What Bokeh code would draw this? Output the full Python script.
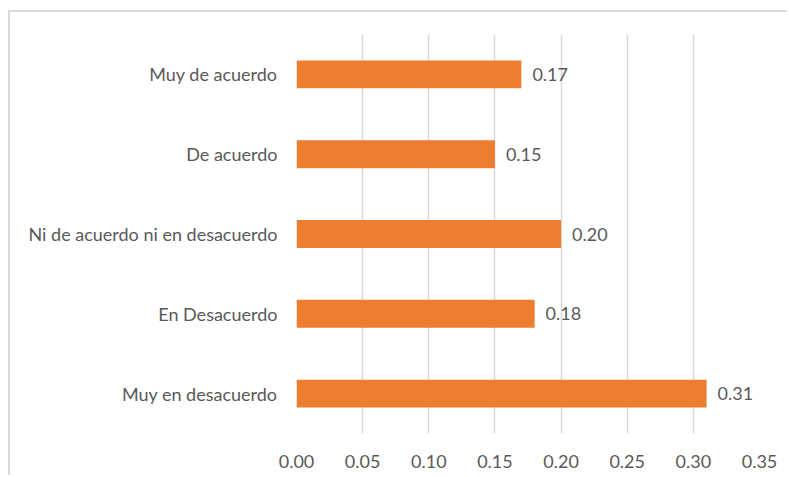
from bokeh.plotting import figure
from bokeh.models import ColumnDataSource, FactorRange, FixedTicker, CustomJSTickFormatter, LabelSet
from bokeh.core.properties import value
from bokeh.embed import file_html
from bokeh.resources import INLINE

# Survey responses, top to bottom as shown
categories = [
    "Muy de acuerdo",
    "De acuerdo",
    "Ni de acuerdo ni en desacuerdo",
    "En Desacuerdo",
    "Muy en desacuerdo",
]
values = [0.17, 0.15, 0.20, 0.18, 0.31]
x_ticks = [0.00, 0.05, 0.10, 0.15, 0.20, 0.25, 0.30, 0.35]

FONT = "Lato"
FONT_SIZE = "18px"
TEXT = "#595959"
GRID = "#d9d9d9"
BAR = "#ED7D31"

source = ColumnDataSource(dict(
    cat=categories,
    val=values,
    lbl=[f"{v:.2f}" for v in values],
))

p = figure(
    width=779, height=465,
    y_range=FactorRange(*reversed(categories)),
    x_range=(0, 0.35),
    output_backend="svg",
    toolbar_location=None,
    min_border_left=286, min_border_right=30,
    min_border_top=22, min_border_bottom=44,
)
# light chart-area border along the top and left edges
p.styles = {
    "margin-left": "8px",
    "margin-top": "10px",
    "border-left": f"2px solid {GRID}",
    "border-top": f"2px solid {GRID}",
}

p.hbar(y="cat", right="val", height=0.35, source=source,
       fill_color=BAR, line_color=None)

p.add_layout(LabelSet(x="val", y="cat", text="lbl", source=source,
                      x_offset=11, text_baseline="middle",
                      text_font=value(FONT), text_font_size=value(FONT_SIZE),
                      text_color=TEXT))

p.outline_line_color = None
p.ygrid.grid_line_color = None
p.xgrid.grid_line_color = GRID
p.xgrid.grid_line_width = 1.5
p.xgrid.ticker = FixedTicker(ticks=x_ticks)

p.xaxis.ticker = FixedTicker(ticks=x_ticks)
p.xaxis.formatter = CustomJSTickFormatter(code="return tick.toFixed(2);")
p.xaxis.axis_line_color = None
p.xaxis.major_tick_line_color = None
p.xaxis.minor_tick_line_color = None
p.xaxis.major_label_standoff = 15
p.xaxis.major_label_text_font = FONT
p.xaxis.major_label_text_font_size = FONT_SIZE
p.xaxis.major_label_text_color = TEXT

p.yaxis.axis_line_color = None
p.yaxis.major_tick_line_color = None
p.yaxis.minor_tick_line_color = None
p.yaxis.major_label_standoff = 13
p.yaxis.major_label_text_font = FONT
p.yaxis.major_label_text_font_size = FONT_SIZE
p.yaxis.major_label_text_color = TEXT

open("out.html", "w").write(file_html(p, INLINE))
